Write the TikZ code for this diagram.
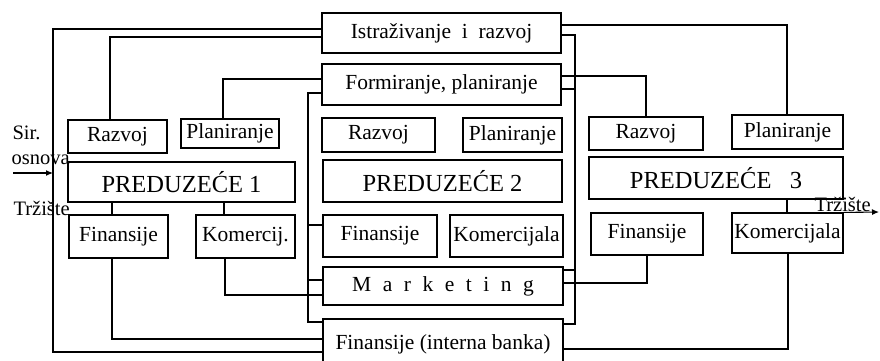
\documentclass[tikz,border=0pt]{standalone}
\usepackage{fontspec}
\setmainfont{Liberation Serif}
\usetikzlibrary{arrows.meta}

\begin{document}
\begin{tikzpicture}[x=1pt, y=-1pt, line width=1.1pt,
  box/.style = {draw, rectangle, inner sep=0pt, font=\fontsize{21.5}{24}\selectfont},
  big/.style = {box, font=\fontsize{24.5}{27}\selectfont},
  sz/.style 2 args = {minimum width=#1, minimum height=#2},
  lbl/.style = {inner sep=0pt, anchor=west, font=\fontsize{20.5}{23}\selectfont}]
		\useasboundingbox (0,0) rectangle (880,361);

		% preduzece 1
		\node[box, sz={99}{33}] (r1) at (117.5,136.5) {Razvoj};
		\node[box, sz={98}{29}] (p1) at (230,133.5) {Planiranje};
		\node[big, sz={227}{40}] (pr1) at (181.5,182) {PREDUZEĆE 1};
		\node[box, sz={99}{43}] (f1) at (118.5,236.5) {Finansije};
		\node[box, sz={99}{43}] (k1) at (245.5,236.5) {Komercij.};

		% zajednicke sluzbe i preduzece 2
		\node[box, sz={239}{40}] (ist) at (441.5,33) {Istraživanje\ \ i\ \ razvoj};
		\node[box, sz={239}{41}] (form) at (441.5,84.5) {Formiranje, planiranje};
		\node[box, sz={113}{34}] (r2) at (378.5,135) {Razvoj};
		\node[box, sz={99}{34}] (p2) at (512.5,135) {Planiranje};
		\node[big, sz={239}{42}] (pr2) at (442.5,181) {PREDUZEĆE 2};
		\node[box, sz={114}{42}] (f2) at (380,236) {Finansije};
		\node[box, sz={113}{42}] (k2) at (506.5,236) {Komercijala};
		\node[box, sz={240}{38}] (mk) at (443,286) {\spaceskip=11.5pt M a r k e t i n g};
		\node[box, sz={240}{50}] (fb) at (443,344) {Finansije (interna banka)};

		% preduzece 3
		\node[box, sz={114}{33}] (r3) at (646,133.5) {Razvoj};
		\node[box, sz={111}{34}] (p3) at (787.5,132) {Planiranje};
		\node[big, sz={254}{42}] (pr3) at (716,178) {PREDUZEĆE\ \ \ 3};
		\node[box, sz={112}{42}] (f3) at (647,234) {Finansije};
		\node[box, sz={111}{40}] (k3) at (787.5,233) {Komercijala};

		% ulaz i izlaz
		\node[lbl] (sir) at (12,133) {Sir.};
		\node[lbl] (osn) at (11,160) {osnova};
		\node[lbl] (trz1) at (13,208) {Tržište};
		\node[lbl, anchor=base west] (trz2) at (814,211) {Tržište};
		\coordinate (in) at (13,173);
		\coordinate (frm) at (53,173);
		\coordinate (out) at (879,212);
		\draw[-{Latex[length=7pt,width=6pt]}] (in) -- (frm);
		\draw[-{Latex[length=7pt,width=6pt]}] (k3.north east) -- (out);

		% veze
		\draw (ist.west |- 0,29) -| (53,352) -- (fb.west |- 0,352);
		\draw (r1.north -| 110,0) |- (ist.west |- 0,37);
		\draw (p1.north -| 223,0) |- (form.west |- 0,79);
		\draw (ist.east |- 0,25) -| (p3.north -| 787,0);
		\draw (ist.east |- 0,35) -| (575,324) -- (fb.east |- 0,324);
		\draw (form.east |- 0,76) -| (r3.north -| 646,0);
		\draw (form.east |- 0,89) -- (575,89);
		\draw (form.west |- 0,93) -| (308,322) -- (fb.west |- 0,322);
		\draw (308,225) -- (f2.west |- 0,225);
		\draw (308,280) -- (mk.west |- 0,280);
		\draw (pr1.south -| 112,0) -- (f1.north -| 112,0);
		\draw (pr1.south -| 224,0) -- (k1.north -| 224,0);
		\draw (k1.south -| 225,0) |- (mk.west |- 0,295);
		\draw (f1.south -| 112,0) |- (fb.west |- 0,339);
		\draw (mk.east |- 0,270) -- (575,270);
		\draw (mk.east |- 0,283) -| (f3.south -| 647,0);
		\draw (fb.east |- 0,349) -| (k3.south -| 788,0);
		\draw (pr3.south -| 787,0) -- (k3.north -| 787,0);
		\end{tikzpicture}
\end{document}
